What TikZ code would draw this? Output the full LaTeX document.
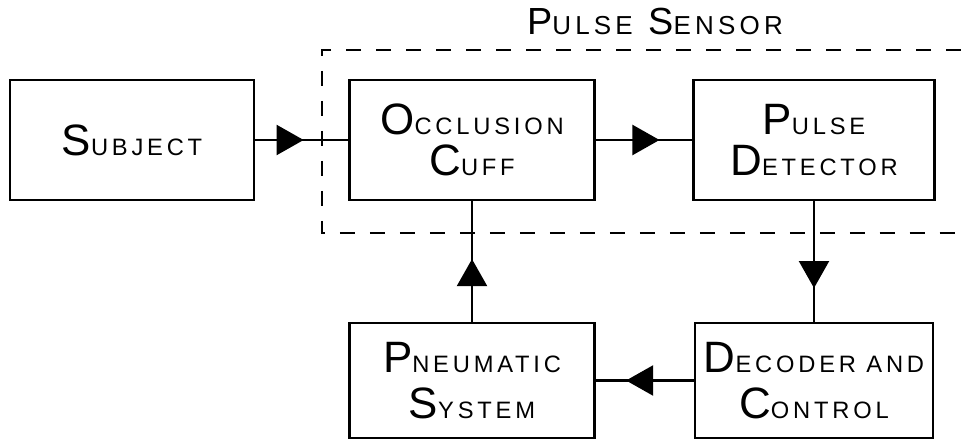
\documentclass[tikz,border=0pt]{standalone}
\usepackage{fontspec}
\usetikzlibrary{arrows.meta, decorations.markings}
\newfontfamily\lettering[LetterSpace=16]{Liberation Sans}
\newlength\capsize
\newcommand{\initcap}[2]{{\fontsize{\capsize}{\capsize}\selectfont #1}\MakeUppercase{#2}}

\begin{document}
\begin{tikzpicture}[
  x=0.02cm, y=-0.02cm,
  blk/.style={draw, line width=1.3pt, align=center, inner sep=0pt,
    minimum width=4.86cm, minimum height=2.4cm,
    font=\lettering\fontsize{13.5}{23}\selectfont\setlength{\capsize}{25pt}},
  lowblk/.style={blk, minimum height=2.3cm,
    font=\lettering\fontsize{13.5}{26}\selectfont\setlength{\capsize}{25pt}},
  title/.style={font=\lettering\fontsize{14.8}{18}\selectfont\setlength{\capsize}{21.5pt}},
  conn/.style={line width=1.2pt},
  midarrow/.style={postaction={decorate}, decoration={markings,
    mark=at position #1 with {\arrow{Triangle[length=0.54cm, width=0.6cm]}}}},
  sensorline/.style={line width=0.9pt, dash pattern=on 0.3cm off 0.3cm},
]
  \useasboundingbox (0,0) rectangle (961,445);

  \node[title] (sensor) at (655,22) {\initcap{P}{ulse}\, \initcap{S}{ensor}};
  \draw[sensorline] (961,50) -- (322,50) -- (322,233) -- (961,233);

  \node[blk, minimum width=4.88cm] (subj) at (132,140) {\initcap{S}{ubject}};
  \node[blk, minimum width=4.9cm] (cuff) at (472,140)
    {\initcap{O}{cclusion}\\ \initcap{C}{uff}};
  \node[blk, minimum width=4.82cm] (det) at (814,140)
    {\initcap{P}{ulse}\\ \initcap{D}{etector}};
  \node[lowblk, minimum width=4.9cm] (pneu) at (472,380.5)
    {\initcap{P}{neumatic}\\ \initcap{S}{ystem}};
  \node[lowblk, minimum width=4.76cm] (dec) at (814,380.5)
    {\initcap{D}{ecoder and}\\ \initcap{C}{ontrol}};

  \draw[conn, midarrow=0.52] (subj) -- (cuff);
  \draw[conn, midarrow=0.66] (cuff) -- (det);
  \draw[conn, midarrow=0.52] (pneu) -- (cuff);
  \draw[conn, midarrow=0.72] (det) -- (dec);
  \draw[conn, midarrow=0.69] (dec) -- (pneu);
\end{tikzpicture}
\end{document}
